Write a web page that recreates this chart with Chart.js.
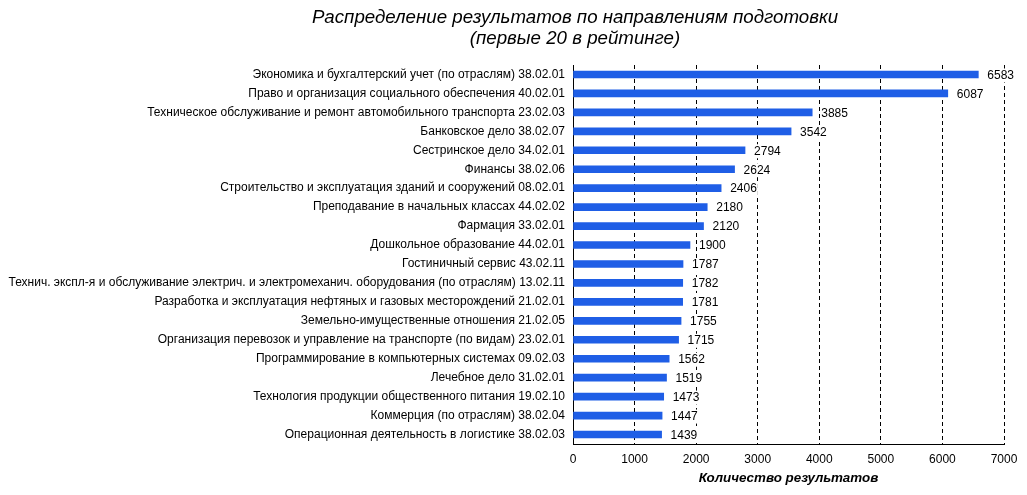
<!DOCTYPE html>
<html>
<head>
<meta charset="utf-8">
<script src="https://cdn.jsdelivr.net/npm/chart.js@4/dist/chart.umd.min.js"></script>
<style>
  html, body { margin: 0; padding: 0; background: #fff; }
  #wrap { width: 1027px; height: 495px; position: relative; }
</style>
</head>
<body>
<div id="wrap"><canvas id="resultsChart"></canvas></div>
<script>
// Data
const titleLines = ['Распределение результатов по направлениям подготовки', '(первые 20 в рейтинге)'];
const axisTitle = 'Количество результатов';

const programLabels = [
    'Экономика и бухгалтерский учет (по отраслям) 38.02.01',
    'Право и организация социального обеспечения 40.02.01',
    'Техническое обслуживание и ремонт автомобильного транспорта 23.02.03',
    'Банковское дело 38.02.07',
    'Сестринское дело 34.02.01',
    'Финансы 38.02.06',
    'Строительство и эксплуатация зданий и сооружений 08.02.01',
    'Преподавание в начальных классах 44.02.02',
    'Фармация 33.02.01',
    'Дошкольное образование 44.02.01',
    'Гостиничный сервис 43.02.11',
    'Технич. экспл-я и обслуживание электрич. и электромеханич. оборудования (по отраслям) 13.02.11',
    'Разработка и эксплуатация нефтяных и газовых месторождений 21.02.01',
    'Земельно-имущественные отношения 21.02.05',
    'Организация перевозок и управление на транспорте (по видам) 23.02.01',
    'Программирование в компьютерных системах 09.02.03',
    'Лечебное дело 31.02.01',
    'Технология продукции общественного питания 19.02.10',
    'Коммерция (по отраслям) 38.02.04',
    'Операционная деятельность в логистике 38.02.03'
];

const resultCounts = [6583, 6087, 3885, 3542, 2794, 2624, 2406, 2180, 2120, 1900,
                      1787, 1782, 1781, 1755, 1715, 1562, 1519, 1473, 1447, 1439];

const xTickValues = [0, 1000, 2000, 3000, 4000, 5000, 6000, 7000];

const FONT = '"Liberation Sans", Arial, sans-serif';

// title drawn over the canvas at a fixed centre
const titlePlugin = {
    id: 'topTitle',
    afterDraw(chart) {
        const ctx = chart.ctx;
        ctx.save();
        ctx.fillStyle = '#000';
        ctx.font = 'italic 18.7px ' + FONT;
        ctx.textAlign = 'center';
        ctx.textBaseline = 'middle';
        titleLines.forEach((line, i) => ctx.fillText(line, 575, 18 + i * 21));
        ctx.restore();
    }
};

// numbers at the end of each bar, on a white box that hides the gridlines
const valueLabels = {
    id: 'valueLabels',
    afterDatasetsDraw(chart) {
        const ctx = chart.ctx;
        const meta = chart.getDatasetMeta(0);
        ctx.save();
        ctx.font = '12px ' + FONT;
        ctx.textAlign = 'left';
        ctx.textBaseline = 'middle';
        meta.data.forEach((bar, i) => {
            const txt = String(resultCounts[i]);
            const x = bar.x + 9;
            const w = ctx.measureText(txt).width;
            ctx.fillStyle = '#fff';
            ctx.fillRect(x - 1, bar.y - 6, w + 2, 14);
            ctx.fillStyle = '#000';
            ctx.fillText(txt, x, bar.y + 1);
        });
        ctx.restore();
    }
};

const ctx = document.getElementById('resultsChart').getContext('2d');
new Chart(ctx, {
    type: 'bar',
    data: {
        labels: programLabels,
        datasets: [{
            data: resultCounts,
            backgroundColor: '#1f5ee6',
            borderWidth: 0,
            barThickness: 7
        }]
    },
    options: {
        indexAxis: 'y',
        responsive: true,
        maintainAspectRatio: false,
        animation: false,
        layout: { padding: { top: 65, right: 23, bottom: 0, left: 0 } },
        plugins: {
            legend: { display: false },
            tooltip: { enabled: false }
        },
        scales: {
            x: {
                min: 0,
                max: 7000,
                afterBuildTicks: scale => { scale.ticks = xTickValues.map(v => ({ value: v })); },
                afterFit: scale => { scale.height = 51; },
                grid: {
                    color: '#000',
                    lineWidth: 1,
                    drawTicks: false
                },
                // border.dash also dashes the gridlines in v4
                border: { display: true, color: '#000', width: 1, dash: [4, 3] },
                ticks: {
                    color: '#000',
                    padding: 8,
                    font: { family: FONT, size: 12 },
                    callback: v => String(v)
                },
                title: {
                    display: true,
                    text: axisTitle,
                    color: '#000',
                    padding: { top: 0, bottom: 9 },
                    font: { family: FONT, size: 13.4, weight: 'bold', style: 'italic' }
                }
            },
            y: {
                afterFit: scale => { scale.width = 573; },
                grid: { display: false, drawTicks: false },
                border: { display: true, color: '#000', width: 1 },
                ticks: {
                    color: '#000',
                    padding: 8,
                    autoSkip: false,
                    font: { family: FONT, size: 12 }
                }
            }
        }
    },
    plugins: [titlePlugin, valueLabels]
});
</script>
</body>
</html>
